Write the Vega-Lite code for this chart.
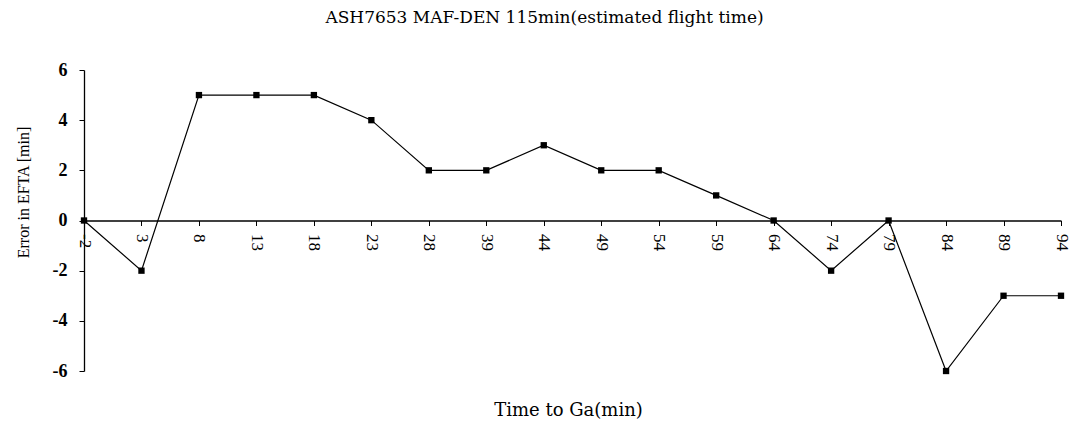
{
  "$schema": "https://vega.github.io/schema/vega-lite/v6.json",
  "autosize": "none",
  "width": 977,
  "height": 301,
  "padding": {"left": 84, "top": 70, "right": 12, "bottom": 59},
  "background": "white",
  "title": {
    "text": "ASH7653 MAF-DEN 115min(estimated flight time)",
    "font": "DejaVu Serif",
    "fontSize": 17,
    "fontWeight": "normal",
    "color": "black",
    "anchor": "middle",
    "frame": "group",
    "dx": -28,
    "offset": 34
  },
  "data": {
    "values": [
      {"t": "-2", "err": 0},
      {"t": "3", "err": -2},
      {"t": "8", "err": 5},
      {"t": "13", "err": 5},
      {"t": "18", "err": 5},
      {"t": "23", "err": 4},
      {"t": "28", "err": 2},
      {"t": "39", "err": 2},
      {"t": "44", "err": 3},
      {"t": "49", "err": 2},
      {"t": "54", "err": 2},
      {"t": "59", "err": 1},
      {"t": "64", "err": 0},
      {"t": "74", "err": -2},
      {"t": "79", "err": 0},
      {"t": "84", "err": -6},
      {"t": "89", "err": -3},
      {"t": "94", "err": -3}
    ]
  },
  "config": {
    "view": {"stroke": null},
    "axis": {"grid": false, "domainColor": "black", "tickColor": "black", "labelColor": "black", "titleColor": "black", "labelFont": "Liberation Serif", "titleFont": "Liberation Serif"}
  },
  "resolve": {"axis": {"x": "independent"}},
  "layer": [
    {
      "mark": {"type": "line", "color": "black", "strokeWidth": 1.2},
      "encoding": {
        "x": {
          "field": "t", "type": "ordinal", "sort": null,
          "scale": {"type": "point", "padding": 0},
          "axis": {
            "orient": "bottom",
            "title": null,
            "offset": -150.5,
            "labelAngle": 90,
            "labelAlign": "left",
            "labelBaseline": "middle",
            "labelFontSize": 17,
            "labelPadding": 8,
            "tickSize": 5,
            "domainWidth": 1.3
          }
        },
        "y": {
          "field": "err", "type": "quantitative",
          "scale": {"domain": [-6, 6], "nice": false, "zero": false},
          "axis": {
            "values": [-6, -4, -2, 0, 2, 4, 6],
            "labelExpr": "replace(datum.label, '\u2212', '-')",
            "title": "Error in EFTA [min]",
            "titleColor": "#000000",
            "titleFontSize": 16,
            "titleFontWeight": "normal",
            "titleAngle": -90,
            "titleAlign": "center",
            "titleBaseline": "middle",
            "titleX": -61,
            "titleY": 122,
            "labelFontSize": 18,
            "labelFontWeight": "bold",
            "labelPadding": 12,
            "tickSize": 5,
            "domainWidth": 1.3
          }
        }
      }
    },
    {
      "mark": {"type": "square", "color": "black", "size": 40, "opacity": 1, "filled": true},
      "encoding": {
        "x": {
          "field": "t", "type": "ordinal", "sort": null,
          "scale": {"type": "point", "padding": 0},
          "axis": {
            "orient": "bottom",
            "title": "Time to Ga(min)",
            "titleFont": "DejaVu Serif",
            "titleFontSize": 18,
            "titleFontWeight": "normal",
            "titleBaseline": "middle",
            "titleX": 484,
            "titleY": 39,
            "domain": false,
            "ticks": false,
            "labels": false
          }
        },
        "y": {"field": "err", "type": "quantitative"}
      }
    }
  ]
}
